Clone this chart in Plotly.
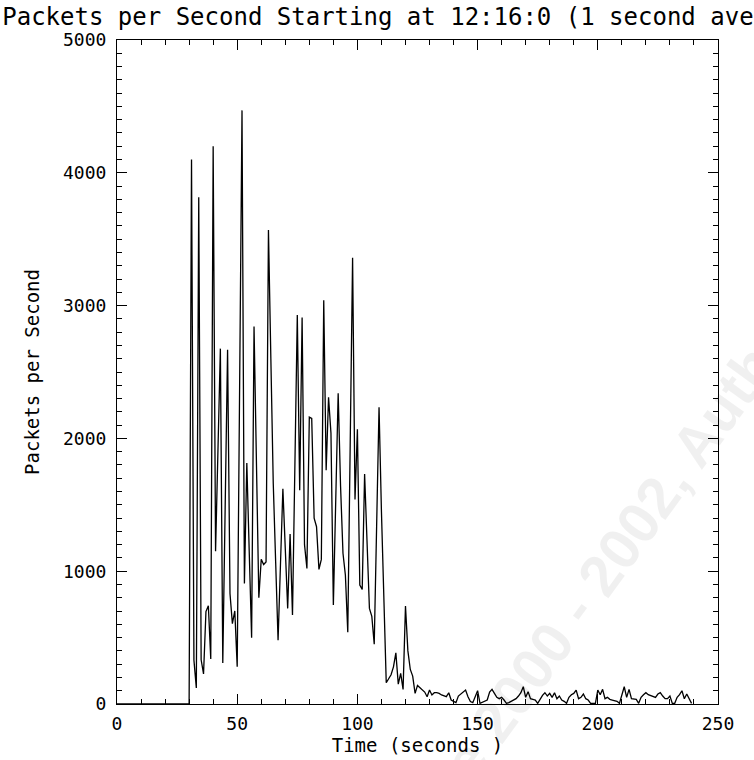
import plotly.graph_objects as go

# ---- data (1-second averages) ----
time_s = list(range(0, 240))

pps_0_30 = [0] * 31  # t = 0 .. 30
pps_31_79 = [4100, 330, 120, 3815, 333, 227, 696, 740, 339, 4200,
             1150, 1910, 2676, 308, 1490, 2667, 832, 605, 701, 280,
             2370, 4470, 907, 1814, 1150, 499, 2843, 1800, 800, 1090,
             1050, 1070, 3570, 2600, 1660, 1070, 480, 1050, 1620, 1170,
             720, 1280, 670, 1800, 2930, 1610, 2910, 1200, 1020]
pps_80_124 = [2160, 2150, 1400, 1335, 1014, 1089, 3040, 1760, 2310, 2040,
              745, 1540, 2340, 1640, 1135, 971, 540, 1950, 3360, 1540,
              2068, 896, 863, 1732, 1220, 720, 660, 450, 1340, 2234,
              1450, 700, 160, 190, 220, 280, 385, 150, 230, 110,
              738, 400, 260, 210, 80]
pps_125_239 = [140, 125, 110, 90, 55, 105, 68, 85, 85, 80,
               68, 60, 55, 85, 30, 20, 10, 60, 75, 85,
               105, 55, 18, 10, 60, 100, 5, 15, 20, 30,
               90, 110, 80, 50, 40, 50, 30, 5, 10, 20,
               25, 40, 60, 85, 130, 50, 93, 40, 35, 30,
               5, 40, 65, 85, 60, 80, 50, 85, 40, 60,
               30, 20, 5, 50, 70, 80, 105, 40, 50, 75,
               40, 30, 5, 5, 5, 105, 70, 110, 40, 50,
               35, 30, 25, 20, 5, 60, 130, 50, 110, 40,
               35, 35, 5, 50, 70, 85, 70, 65, 60, 50,
               75, 85, 60, 40, 40, 60, 5, 5, 50, 70,
               100, 40, 75, 40, 5]
packets_per_second = pps_0_30 + pps_31_79 + pps_80_124 + pps_125_239

x_tickvals = [0, 50, 100, 150, 200, 250]
y_tickvals = [0, 1000, 2000, 3000, 4000, 5000]

title_text = "Packets per Second Starting at 12:16:0 (1 second averages)"
x_title = "Time (seconds )"
y_title = "Packets per Second"
watermark = "© SANS Institute 2000 - 2002, Author retains full rights."

FONT = "DejaVu Sans Mono"

fig = go.Figure()
fig.add_trace(go.Scatter(
    x=time_s, y=packets_per_second, mode="lines",
    line=dict(color="black", width=1.3), hoverinfo="skip", showlegend=False,
))

axis_common = dict(
    showgrid=False, zeroline=False, showline=True, linecolor="black",
    linewidth=1, mirror="ticks", ticks="inside", tickcolor="black",
    tickwidth=1, ticklen=10,
    tickfont=dict(family=FONT, size=18, color="black"),
)

fig.update_xaxes(
    range=[0, 250], tickvals=x_tickvals, ticktext=[str(v) for v in x_tickvals],
    minor=dict(ticks="inside", dtick=10, ticklen=5, tickcolor="black", tickwidth=1),
    title=dict(text=x_title, font=dict(family=FONT, size=19, color="black"), standoff=4),
    ticklabelstandoff=3,
    **axis_common,
)
fig.update_yaxes(
    range=[0, 5000], tickvals=y_tickvals, ticktext=[str(v) for v in y_tickvals],
    minor=dict(ticks="inside", dtick=100, ticklen=5, tickcolor="black", tickwidth=1),
    title=dict(text=y_title, font=dict(family=FONT, size=19, color="black"), standoff=18),
    ticklabelstandoff=6,
    **axis_common,
)

fig.add_annotation(
    text=watermark, xref="paper", yref="paper",
    x=(648 - 117) / 601, y=(704 - 510) / 664,
    xanchor="center", yanchor="middle", showarrow=False, textangle=-54,
    font=dict(family="Liberation Sans", size=58, color="rgba(0,0,0,0.06)", weight="bold"),
)

fig.update_layout(
    width=754, height=760,
    margin=dict(l=117, r=36, t=40, b=56, autoexpand=False),
    paper_bgcolor="white", plot_bgcolor="white",
    title=dict(text=title_text, x=0.003, xref="container", xanchor="left",
               y=1 - 17 / 760, yref="container", yanchor="middle",
               font=dict(family=FONT, size=24, color="black")),
)

fig.write_html("out.html", config={"displayModeBar": False},
               post_script="document.body.style.margin='0';")
